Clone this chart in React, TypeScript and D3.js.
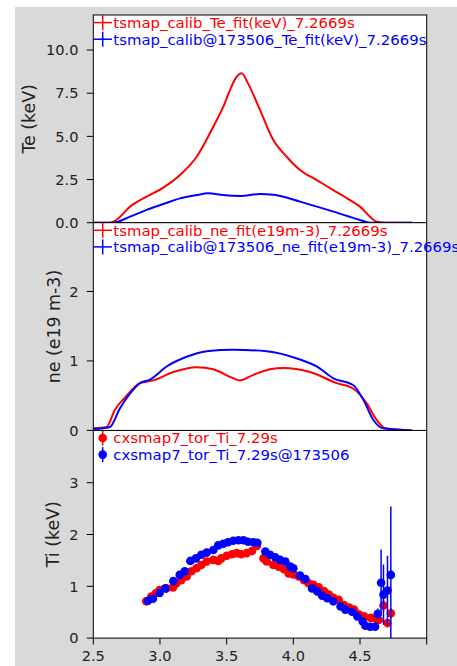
import React from 'react';
import * as d3 from 'd3';

// R (m) grid and profiles
const teRedR = [2.5, 2.62, 2.68, 2.775, 2.9, 3.025, 3.15, 3.275, 3.4, 3.475, 3.525, 3.57, 3.6125, 3.66, 3.75, 3.85, 3.95, 4.05, 4.175, 4.3, 4.425, 4.5, 4.575, 4.625, 4.7, 4.89];
const teRed = [0, 0, 0.2, 0.93, 1.51, 2.03, 2.76, 3.82, 5.56, 6.72, 7.68, 8.4, 8.65, 8.07, 6.53, 4.79, 3.82, 3.05, 2.47, 1.89, 1.31, 0.93, 0.35, 0.05, 0, 0];
const teBlueR = [2.5, 2.65, 2.775, 2.9, 3.025, 3.15, 3.275, 3.36, 3.475, 3.6, 3.75, 3.85, 4.05, 4.3, 4.5, 4.575, 4.89];
const teBlue = [0, 0, 0.35, 0.74, 1.08, 1.41, 1.6, 1.7, 1.6, 1.55, 1.66, 1.62, 1.22, 0.64, 0.16, 0, 0];

const neRedR = [2.5, 2.6, 2.66, 2.74, 2.85, 2.95, 3.1, 3.275, 3.4, 3.55, 3.6, 3.7, 3.825, 3.925, 4.125, 4.325, 4.45, 4.55, 4.625, 4.69, 4.89];
const neRed = [0.03, 0.05, 0.29, 0.48, 0.68, 0.72, 0.84, 0.91, 0.88, 0.75, 0.72, 0.8, 0.88, 0.9, 0.84, 0.68, 0.6, 0.39, 0.15, 0.03, 0];
const neBlueR = [2.5, 2.625, 2.7, 2.775, 2.85, 2.925, 3.05, 3.2, 3.35, 3.55, 3.8, 4.05, 4.175, 4.3, 4.45, 4.525, 4.6, 4.675, 4.89];
const neBlue = [0.02, 0.05, 0.32, 0.53, 0.68, 0.73, 0.92, 1.06, 1.14, 1.16, 1.14, 1.02, 0.92, 0.75, 0.65, 0.44, 0.15, 0.03, 0];

const tiRedR = [2.897, 2.935, 2.97, 2.997, 3.048, 3.098, 3.123, 3.16, 3.2, 3.236, 3.274, 3.31, 3.35, 3.4, 3.437, 3.46, 3.5, 3.54, 3.575, 3.61, 3.65, 3.69, 3.726,
  3.776, 3.8, 3.85, 3.89, 3.93, 3.965, 4.0, 4.04, 4.08, 4.115, 4.15, 4.19, 4.23, 4.266, 4.3, 4.34, 4.38, 4.42, 4.455, 4.49, 4.53, 4.58, 4.62, 4.64, 4.676, 4.706, 4.731];
const tiRed = [0.71, 0.8, 0.87, 0.93, 0.96, 0.98, 1.06, 1.12, 1.19, 1.29, 1.35, 1.41, 1.48, 1.51, 1.49, 1.54, 1.59, 1.62, 1.64, 1.62, 1.64, 1.68, 1.78,
  1.54, 1.48, 1.41, 1.38, 1.33, 1.25, 1.23, 1.19, 1.12, 1.06, 1.03, 0.98, 0.91, 0.84, 0.78, 0.74, 0.64, 0.59, 0.55, 0.46, 0.42, 0.39, 0.37, 0.35, 0.63, 0.29, 0.48];
const tiRedErr = [0.02, 0.02, 0.02, 0.02, 0.02, 0.02, 0.02, 0.02, 0.02, 0.02, 0.02, 0.02, 0.02, 0.02, 0.02, 0.02, 0.02, 0.02, 0.02, 0.02, 0.02, 0.02, 0.03,
  0.02, 0.02, 0.02, 0.02, 0.02, 0.02, 0.02, 0.02, 0.02, 0.02, 0.02, 0.02, 0.02, 0.02, 0.02, 0.03, 0.03, 0.03, 0.03, 0.03, 0.03, 0.04, 0.04, 0.05, 0.1, 0.08, 0.1];

const tiBlueR = [2.91, 2.947, 2.997, 3.04, 3.1, 3.148, 3.186, 3.228, 3.27, 3.31, 3.35, 3.4, 3.437, 3.475, 3.51, 3.55, 3.588, 3.626, 3.66, 3.7, 3.73,
  3.79, 3.826, 3.864, 3.9, 3.94, 3.977, 4.0, 4.05, 4.09, 4.14, 4.18, 4.216, 4.254, 4.3, 4.354, 4.39, 4.44, 4.48, 4.52, 4.54, 4.576, 4.613, 4.633, 4.658, 4.676, 4.706, 4.731];
const tiBlue = [0.72, 0.76, 0.87, 0.96, 1.1, 1.22, 1.29, 1.49, 1.54, 1.61, 1.65, 1.7, 1.79, 1.82, 1.85, 1.88, 1.89, 1.89, 1.86, 1.85, 1.84,
  1.67, 1.61, 1.56, 1.51, 1.48, 1.38, 1.35, 1.21, 1.14, 0.96, 0.9, 0.82, 0.77, 0.71, 0.61, 0.55, 0.51, 0.42, 0.32, 0.24, 0.22, 0.22, 0.47, 1.07, 0.84, 0.92, 1.22];
const tiBlueErr = [0.02, 0.02, 0.02, 0.02, 0.02, 0.02, 0.02, 0.02, 0.02, 0.02, 0.02, 0.02, 0.02, 0.02, 0.02, 0.02, 0.02, 0.02, 0.02, 0.02, 0.02,
  0.02, 0.02, 0.02, 0.02, 0.02, 0.02, 0.02, 0.02, 0.02, 0.02, 0.02, 0.02, 0.02, 0.03, 0.03, 0.03, 0.03, 0.04, 0.04, 0.05, 0.05, 0.06, 0.1, 0.64, 0.58, 0.67, 1.32];

const xTicks = [2.5, 3.0, 3.5, 4.0, 4.5, 5.0];
const xTickLabels = ['2.5', '3.0', '3.5', '4.0', '4.5', ''];
const teTicks = [0, 2.5, 5, 7.5, 10];
const neTicks = [0, 1, 2];
const tiTicks = [0, 1, 2, 3];

const teLegend = ['tsmap_calib_Te_fit(keV)_7.2669s', 'tsmap_calib@173506_Te_fit(keV)_7.2669s'];
const neLegend = ['tsmap_calib_ne_fit(e19m-3)_7.2669s', 'tsmap_calib@173506_ne_fit(e19m-3)_7.2669s'];
const tiLegend = ['cxsmap7_tor_Ti_7.29s', 'cxsmap7_tor_Ti_7.29s@173506'];

const RED = '#ff0000';
const BLUE = '#0000ff';
const FONT = 'DejaVu Sans, sans-serif';

const W = 457;
const H = 666;
const left = 93.3;
const right = 426.7;
const top = 15;
const panelH = 207.7;

const x = d3.scaleLinear().domain([2.5, 5.0]).range([left, right]);

function pairs(xs, ys) {
  return xs.map((v, i) => [v, ys[i]]);
}

function Panel({ index, yMax, ticks, fmt, label, labelX, legend, lines, dots }) {
  const y0 = top + index * panelH;
  const y = d3.scaleLinear().domain([0, yMax]).range([y0 + panelH, y0]);
  const line = d3.line().x(d => x(d[0])).y(d => y(d[1])).curve(d3.curveMonotoneX);
  const clipId = `clip${index}`;
  const isBottom = index === 2;
  return (
    <g>
      <defs>
        <clipPath id={clipId}>
          <rect x={left} y={y0} width={right - left} height={panelH} />
        </clipPath>
      </defs>
      <rect x={left} y={y0} width={right - left} height={panelH} fill="#fff" />
      <g clipPath={`url(#${clipId})`}>
        {lines && lines.map((s, i) => (
          <path key={i} d={line(s.data)} fill="none" stroke={s.color} strokeWidth={2} />
        ))}
        {dots && dots.map((s, i) => (
          <g key={i}>
            {s.data.map((d, j) => (
              <line key={'e' + j} x1={x(d[0])} x2={x(d[0])} y1={y(d[1] - d[2])} y2={y(d[1] + d[2])}
                stroke={s.color} strokeWidth={1.5} />
            ))}
            {s.data.map((d, j) => (
              <circle key={'c' + j} cx={x(d[0])} cy={y(d[1])} r={4.3} fill={s.color} />
            ))}
          </g>
        ))}
      </g>
      <rect x={left} y={y0} width={right - left} height={panelH} fill="none" stroke="#000" strokeWidth={1} />
      {ticks.map(t => (
        <g key={t}>
          <line x1={left - 6.5} x2={left} y1={y(t)} y2={y(t)} stroke="#000" />
          <text x={78.5} y={y(t)} dy="0.36em" textAnchor="end" fontSize={14.6} fill="#222" fontFamily={FONT}>{fmt(t)}</text>
        </g>
      ))}
      {isBottom && xTicks.map((t, i) => (
        <g key={t}>
          <line x1={x(t)} x2={x(t)} y1={y0 + panelH} y2={y0 + panelH + 6.5} stroke="#000" />
          <text x={x(t)} y={y0 + panelH + 23} textAnchor="middle" fontSize={14.6} fill="#222" fontFamily={FONT}>{xTickLabels[i]}</text>
        </g>
      ))}
      <text transform={`translate(${labelX},${y0 + panelH / 2}) rotate(-90)`} textAnchor="middle" dy="0.36em"
        fontSize={17.4} fill="#222" fontFamily={FONT}>{label}</text>
      {legend.map((l, i) => {
        const cy = y0 + 7.6 + i * 16.6;
        return (
          <g key={i}>
            {lines && <line x1={left} x2={112} y1={cy} y2={cy} stroke={l.color} strokeWidth={1.5} />}
            <line x1={102.7} x2={102.7} y1={cy - 7.5} y2={cy + 7.5} stroke={l.color} strokeWidth={1.5} />
            {dots && <circle cx={102.7} cy={cy} r={4.3} fill={l.color} />}
            <text x={113.3} y={cy} dy="0.36em" fontSize={14.9} fill={l.color} fontFamily={FONT}>{l.text}</text>
          </g>
        );
      })}
    </g>
  );
}

export default function App() {
  return (
    <div style={{ position: 'absolute', left: 0, top: 0 }}>
      <svg width={W} height={H} style={{ display: 'block' }}>
        <rect x={0} y={0} width={W} height={H} fill="#fff" />
        <rect x={15} y={7} width={W - 15} height={H - 7} fill="#d9d9d9" />
        <Panel index={0} yMax={12.03} ticks={teTicks} fmt={d3.format('.1f')} label="Te (keV)" labelX={28.3}
          lines={[{ color: RED, data: pairs(teRedR, teRed) }, { color: BLUE, data: pairs(teBlueR, teBlue) }]}
          legend={[{ color: RED, text: teLegend[0] }, { color: BLUE, text: teLegend[1] }]} />
        <Panel index={2} yMax={4.01} ticks={tiTicks} fmt={d3.format('d')} label="Ti (keV)" labelX={52.5}
          dots={[
            { color: RED, data: tiRedR.map((v, i) => [v, tiRed[i], tiRedErr[i]]) },
            { color: BLUE, data: tiBlueR.map((v, i) => [v, tiBlue[i], tiBlueErr[i]]) },
          ]}
          legend={[{ color: RED, text: tiLegend[0] }, { color: BLUE, text: tiLegend[1] }]} />
        <Panel index={1} yMax={2.99} ticks={neTicks} fmt={d3.format('d')} label="ne (e19 m-3)" labelX={53.3}
          lines={[{ color: RED, data: pairs(neRedR, neRed) }, { color: BLUE, data: pairs(neBlueR, neBlue) }]}
          legend={[{ color: RED, text: neLegend[0] }, { color: BLUE, text: neLegend[1] }]} />
      </svg>
    </div>
  );
}
